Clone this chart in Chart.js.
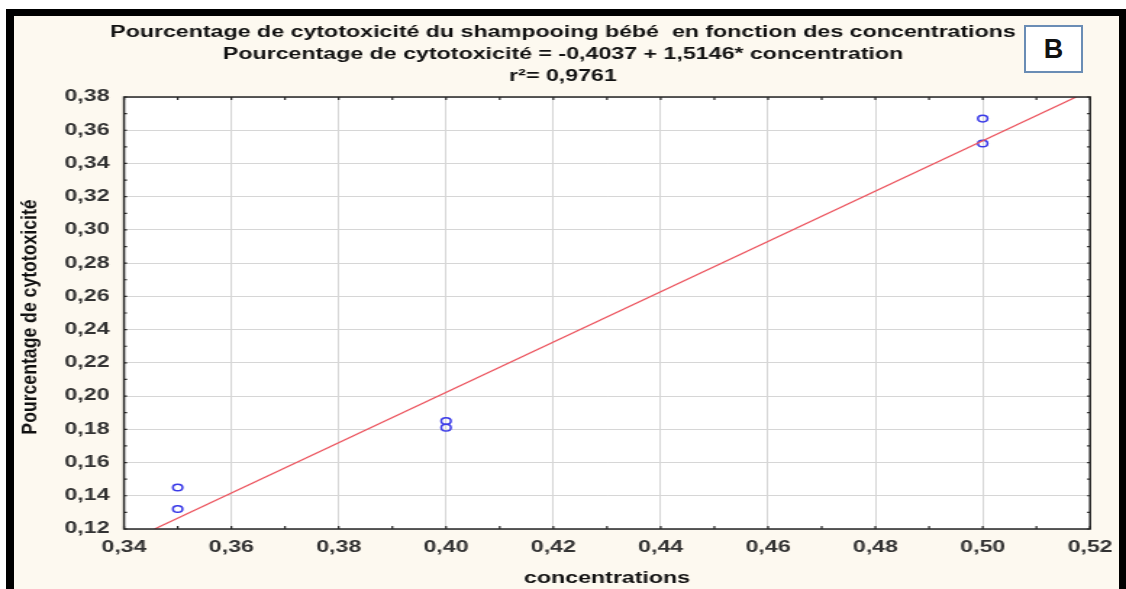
<!DOCTYPE html>
<html>
<head>
<meta charset="utf-8">
<script src="https://cdn.jsdelivr.net/npm/chart.js@4/dist/chart.umd.min.js"></script>
<style>
  html, body { margin: 0; padding: 0; background: #fff; overflow: hidden; }
  body { width: 1126px; height: 589px; position: relative; }
  #frame {
    position: absolute; left: 6px; top: 9px; width: 1120px; height: 600px;
    box-sizing: border-box; background: #fdf9f0;
    border-left: 8px solid #000; border-top: 7px solid #000; border-right: 7px solid #000;
  }
  #chart { position: absolute; left: 0; top: 0; }
  #tag {
    position: absolute; left: 1024px; top: 25px; width: 59px; height: 48px;
    box-sizing: border-box; border: 2px solid #6a8db5; background: #fff;
    font: bold 27px "Liberation Sans", Arial, sans-serif; color: #111;
    text-align: center; line-height: 44px;
  }
</style>
</head>
<body>
<div id="frame"></div>
<canvas id="chart" width="777" height="589" style="width: 1126px; height: 589px;"></canvas>
<div id="tag">B</div>
<script>
// values
const concX = [0.35, 0.35, 0.40, 0.40, 0.50, 0.50];
const cytoY = [0.145, 0.132, 0.185, 0.181, 0.367, 0.352];

// fitted line, ends where it leaves the plot
const fitX = [0.3457, 0.5174];
const fitY = [0.12, 0.38];

const xTicks = [0.34, 0.36, 0.38, 0.40, 0.42, 0.44, 0.46, 0.48, 0.50, 0.52];
const yTicks = [0.12, 0.14, 0.16, 0.18, 0.20, 0.22, 0.24, 0.26, 0.28, 0.30, 0.32, 0.34, 0.36, 0.38];

const titleLines = [
    'Pourcentage de cytotoxicité du shampooing bébé  en fonction des concentrations',
    'Pourcentage de cytotoxicité = -0,4037 + 1,5146* concentration',
    'r²= 0,9761'
];
const xTitle = 'concentrations';
const yTitle = 'Pourcentage de cytotoxicité';

// the original picture is stretched sideways, so the canvas is drawn narrow and widened by css
const S = 1126 / 777;
const SIDE = 24.8;
const FONT = '"Liberation Sans", Arial, sans-serif';

const fmt = v => Number(v).toFixed(2).replace('.', ',');

// white plot area
const plotBg = {
    id: 'plotBg',
    beforeDraw(chart) {
        const { ctx, chartArea: a } = chart;
        ctx.save();
        ctx.fillStyle = '#fff';
        ctx.fillRect(a.left, a.top, a.right - a.left, a.bottom - a.top);
        ctx.restore();
    }
};

// box round the plot with small inside ticks every 0.01
const plotFrame = {
    id: 'plotFrame',
    afterDatasetsDraw(chart) {
        const { ctx, chartArea: a, scales } = chart;
        ctx.save();
        ctx.strokeStyle = '#262626';
        ctx.lineWidth = 1.2;
        ctx.beginPath();
        for (let i = 0; i <= 18; i++) {
            const x = scales.x.getPixelForValue(0.34 + i * 0.01);
            ctx.moveTo(x, a.bottom); ctx.lineTo(x, a.bottom - 3);
            ctx.moveTo(x, a.top); ctx.lineTo(x, a.top + 3);
        }
        for (let i = 0; i <= 26; i++) {
            const y = scales.y.getPixelForValue(0.12 + i * 0.01);
            ctx.moveTo(a.left, y); ctx.lineTo(a.left + 3 / S, y);
            ctx.moveTo(a.right, y); ctx.lineTo(a.right - 3 / S, y);
        }
        ctx.stroke();
        ctx.lineWidth = 1.5;
        ctx.strokeRect(a.left, a.top, a.right - a.left, a.bottom - a.top);
        ctx.restore();
    }
};

// y title is narrow and not stretched: undo the css stretch, then squeeze along the text
const yTitlePlugin = {
    id: 'yTitle',
    afterDraw(chart) {
        const ctx = chart.ctx;
        ctx.save();
        ctx.translate(30.5 / S, 317);
        ctx.scale(1 / S, 1);
        ctx.rotate(-Math.PI / 2);
        ctx.scale(0.84, 1);
        ctx.font = 'bold 21px ' + FONT;
        ctx.fillStyle = '#111';
        ctx.textAlign = 'center';
        ctx.textBaseline = 'middle';
        ctx.fillText(yTitle, 0, 0);
        ctx.restore();
    }
};

function createChart() {
    const ctx = document.getElementById('chart').getContext('2d');
    new Chart(ctx, {
        type: 'scatter',
        data: {
            datasets: [{
                type: 'line',
                data: fitX.map((x, i) => ({ x: x, y: fitY[i] })),
                borderColor: 'rgb(236, 82, 92)',
                borderWidth: 1.2,
                pointRadius: 0,
                fill: false
            }, {
                data: concX.map((x, i) => ({ x: x, y: cytoY[i] })),
                pointStyle: 'circle',
                pointRadius: 3.3,
                borderColor: 'rgb(58, 58, 232)',
                borderWidth: 1.5,
                backgroundColor: 'rgba(0, 0, 0, 0)'
            }]
        },
        options: {
            responsive: false,
            animation: false,
            // same padding both sides so the title stays centred on the page
            layout: { padding: { left: SIDE, right: SIDE, top: 0, bottom: 0 } },
            plugins: {
                legend: { display: false },
                tooltip: { enabled: false },
                title: {
                    display: true,
                    text: titleLines,
                    color: '#111',
                    font: { family: FONT, size: 16, weight: 'bold', lineHeight: 1.375 },
                    padding: { top: 22, bottom: 9 }
                }
            },
            scales: {
                x: {
                    type: 'linear',
                    min: 0.34,
                    max: 0.52,
                    afterBuildTicks: s => { s.ticks = xTicks.map(v => ({ value: v })); },
                    afterFit: s => { s.height = 60; },
                    grid: { color: '#d6d6d6', lineWidth: 1, drawTicks: false },
                    border: { display: false },
                    ticks: {
                        padding: 9,
                        color: '#333',
                        font: { family: FONT, size: 16, weight: 'bold' },
                        maxRotation: 0,
                        callback: v => fmt(v)
                    },
                    title: {
                        display: true,
                        text: xTitle,
                        color: '#111',
                        font: { family: FONT, size: 16, weight: 'bold' },
                        padding: { top: 0, bottom: 1 }
                    }
                },
                y: {
                    type: 'linear',
                    min: 0.12,
                    max: 0.38,
                    afterBuildTicks: s => { s.ticks = yTicks.map(v => ({ value: v })); },
                    afterFit: s => { s.width = 124 / S - SIDE; },
                    grid: { color: '#d6d6d6', lineWidth: 1, drawTicks: false },
                    border: { display: false },
                    ticks: {
                        padding: 10,
                        color: '#333',
                        font: { family: FONT, size: 16, weight: 'bold' },
                        callback: v => fmt(v)
                    }
                }
            }
        },
        plugins: [plotBg, plotFrame, yTitlePlugin]
    });
}

document.addEventListener('DOMContentLoaded', createChart);
</script>
</body>
</html>
